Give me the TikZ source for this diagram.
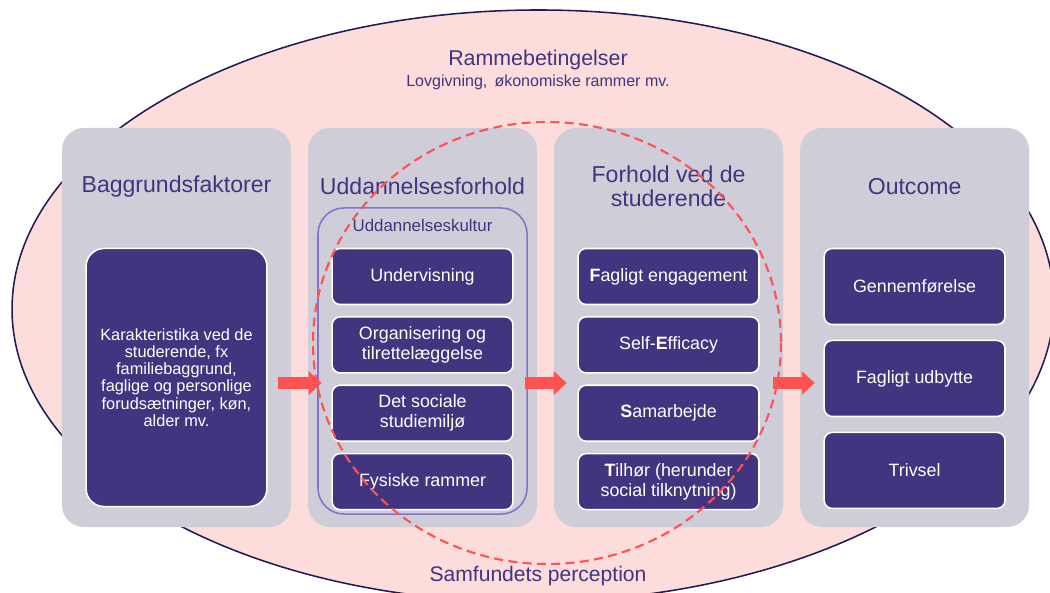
\documentclass[tikz,border=0pt]{standalone}
\usepackage{fontspec}
\setmainfont{Liberation Sans}
\usetikzlibrary{positioning, arrows.meta}

\definecolor{rammepink}{HTML}{FDDCDC}
\definecolor{rammeline}{HTML}{221C52}
\definecolor{panelgray}{HTML}{CFCDD8}
\definecolor{boxpurple}{HTML}{42347F}
\definecolor{kulturline}{HTML}{8473CC}
\definecolor{arrowred}{HTML}{FF5252}

\tikzstyle{panel} = [rectangle, rounded corners=0.55cm, minimum width=5.725cm, minimum height=9.975cm, fill=panelgray]
\tikzstyle{title} = [text=boxpurple, font=\fontsize{16.4}{17}\selectfont, align=center]
\tikzstyle{item} = [rectangle, rounded corners=0.2cm, minimum width=4.52cm, minimum height=1.4cm, fill=boxpurple, draw=white, line width=1.1pt, text=white, font=\fontsize{12.7}{14.2}\selectfont, align=center]
\tikzstyle{kulturframe} = [rectangle, rounded corners=0.65cm, minimum width=5.225cm, minimum height=7.65cm, draw=kulturline, line width=1.1pt]
\tikzstyle{fatarrow} = [line width=0.3cm, arrowred, -{Triangle[length=0.325cm, width=0.575cm]}]

\begin{document}
\begin{tikzpicture}[x=0.025cm, y=-0.025cm, node distance=0.27cm]
    \useasboundingbox (0,0) rectangle (1050,592);
    % the frame conditions
    \filldraw [fill=rammepink, draw=rammeline, line width=1.1pt] (533,306) ellipse [x radius=521, y radius=296, rotate=0.5];
    \node (ramme) at (538,60) [text=boxpurple, font=\fontsize{15.2}{17}\selectfont] {Rammebetingelser};
    \node (lov) at (538,82) [text=boxpurple, font=\fontsize{11.4}{13}\selectfont] {Lovgivning,\, økonomiske rammer mv.};
    \node (samf) at (538,576) [text=boxpurple, font=\fontsize{15}{17}\selectfont] {Samfundets perception};

    % four columns
    \node (p1) at (176.5,327.5) [panel] {};
    \node (p2) [panel, right=0.41cm of p1] {};
    \node (p3) [panel, right=0.41cm of p2] {};
    \node (p4) [panel, right=0.41cm of p3] {};

    \node (t1) at ([shift={(0,59)}]p1.north) [title] {Baggrundsfaktorer};
    \node (t2) at ([shift={(0,59)}]p2.north) [title] {Uddannelsesforhold};
    \node (t3) at ([shift={(0,59)}]p3.north) [title] {Forhold ved de\\studerende};
    \node (t4) at ([shift={(0,59)}]p4.north) [title] {Outcome};

    \node (b1) at ([shift={(0,50)}]p1.center) [item, rounded corners=0.45cm, minimum height=6.45cm, font=\fontsize{11.6}{12.2}\selectfont] {Karakteristika ved de\\studerende, fx\\familiebaggrund,\\faglige og personlige\\forudsætninger, køn,\\alder mv.};

    \node (kultur) at ([shift={(0,33.5)}]p2.center) [kulturframe] {};
    \node (kt) at ([shift={(0,18)}]kultur.north) [text=boxpurple, font=\fontsize{12}{14}\selectfont] {Uddannelseskultur};
    \node (u1) at ([shift={(0,-51)}]p2.center) [item] {Undervisning};
    \node (u2) [item, below=of u1] {Organisering og\\tilrettelæggelse};
    \node (u3) [item, below=of u2] {Det sociale\\studiemiljø};
    \node (u4) [item, below=of u3] {Fysiske rammer};

    \node (f1) at ([shift={(0,-51)}]p3.center) [item] {\textbf{F}agligt engagement};
    \node (f2) [item, below=of f1] {Self-\textbf{E}fficacy};
    \node (f3) [item, below=of f2] {\textbf{S}amarbejde};
    \node (f4) [item, below=of f3] {\textbf{T}ilhør (herunder\\social tilknytning)};

    \node (o1) at ([shift={(0,-41)}]p4.center) [item, minimum height=1.9cm] {Gennemførelse};
    \node (o2) [item, minimum height=1.9cm, below=0.36cm of o1] {Fagligt udbytte};
    \node (o3) [item, minimum height=1.9cm, below=0.36cm of o2] {Trivsel};

    \draw [fatarrow] ([shift={(-13,55.5)}]p1.east) -- ([shift={(14,55.5)}]p2.west);
    \draw [fatarrow] ([shift={(-12,55.5)}]p2.east) -- ([shift={(13,55.5)}]p3.west);
    \draw [fatarrow] ([shift={(-10,55.5)}]p3.east) -- ([shift={(15,55.5)}]p4.west);

    % societal perception
    \draw [arrowred, line width=1.5pt, dash pattern=on 6.4pt off 3.8pt] (547,343) ellipse [x radius=234, y radius=221];
\end{tikzpicture}
\end{document}
